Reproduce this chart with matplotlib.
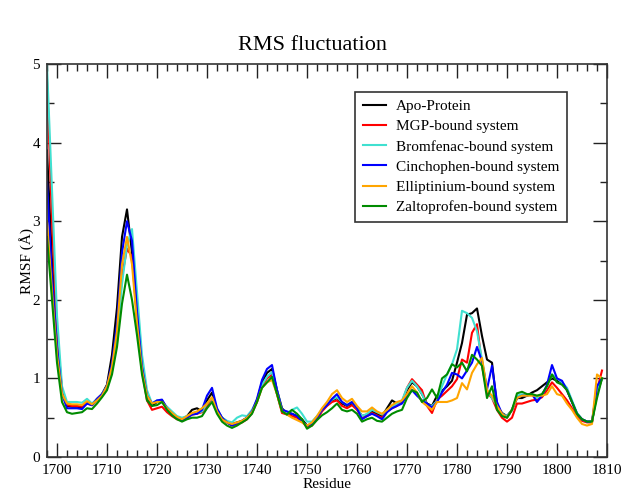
import numpy as np
import matplotlib
matplotlib.use("Agg")
import matplotlib.pyplot as plt
from matplotlib.ticker import MultipleLocator

plt.rcParams['font.family'] = ['Liberation Serif', 'DejaVu Serif']

residues = list(range(1698, 1810))

apo = [3.9, 2.5, 1.5, 0.85, 0.65, 0.64, 0.64, 0.63, 0.70, 0.66, 0.72, 0.80,
       0.92, 1.3, 1.9, 2.8, 3.15, 2.6, 1.8, 1.15, 0.78, 0.65,
       0.70, 0.72, 0.62, 0.56, 0.51, 0.48, 0.52, 0.60, 0.62, 0.58,
       0.72, 0.82, 0.60, 0.50, 0.45, 0.42, 0.44, 0.46, 0.50, 0.58,
       0.72, 0.95, 1.07, 1.12, 0.85, 0.62, 0.55, 0.55, 0.52, 0.48,
       0.40, 0.42, 0.50, 0.60, 0.66, 0.72, 0.75, 0.68, 0.65, 0.68,
       0.62, 0.52, 0.54, 0.58, 0.55, 0.52, 0.62, 0.72, 0.68, 0.70,
       0.85, 0.95, 0.90, 0.80, 0.68, 0.65, 0.78, 0.84, 0.90, 0.97,
       1.20, 1.45, 1.81, 1.83, 1.89, 1.54, 1.24, 1.20, 0.65, 0.56,
       0.52, 0.60, 0.75, 0.75, 0.78, 0.82, 0.85, 0.90, 0.95, 1.00,
       0.97, 0.95, 0.85, 0.70, 0.55, 0.48, 0.45, 0.45, 0.80, 1.00]
mgp = [4.8, 3.0, 1.6, 0.85, 0.66, 0.65, 0.65, 0.64, 0.68, 0.66, 0.74, 0.80,
       0.88, 1.1, 1.5, 2.3, 2.65, 2.55, 1.75, 1.1, 0.72, 0.60,
       0.62, 0.64, 0.57, 0.52, 0.48, 0.47, 0.50, 0.54, 0.55, 0.57,
       0.65, 0.75, 0.58, 0.48, 0.44, 0.40, 0.42, 0.44, 0.48, 0.56,
       0.70, 0.90, 1.00, 1.05, 0.80, 0.56, 0.54, 0.52, 0.50, 0.45,
       0.38, 0.40, 0.48, 0.58, 0.65, 0.70, 0.72, 0.65, 0.62, 0.66,
       0.60, 0.50, 0.52, 0.56, 0.53, 0.50, 0.58, 0.62, 0.65, 0.70,
       0.88, 0.99, 0.92, 0.85, 0.65, 0.56, 0.73, 0.78, 0.84, 0.90,
       0.99, 1.24, 1.20, 1.58, 1.69, 1.16, 0.82, 0.75, 0.60, 0.50,
       0.45, 0.50, 0.68, 0.68, 0.70, 0.72, 0.73, 0.76, 0.85, 0.95,
       0.88, 0.80, 0.72, 0.62, 0.52, 0.46, 0.44, 0.44, 0.85, 1.10]
bromfenac = [4.98, 3.4, 1.8, 0.9, 0.70, 0.70, 0.70, 0.69, 0.74, 0.68, 0.74, 0.80,
             0.90, 1.1, 1.45, 2.2, 2.7, 2.9, 2.1, 1.3, 0.85, 0.68,
             0.72, 0.70, 0.64, 0.58, 0.52, 0.50, 0.52, 0.55, 0.56, 0.58,
             0.68, 0.75, 0.60, 0.50, 0.46, 0.44, 0.50, 0.53, 0.52, 0.60,
             0.72, 0.92, 1.02, 1.08, 0.85, 0.60, 0.56, 0.60, 0.63, 0.55,
             0.45, 0.45, 0.52, 0.60, 0.67, 0.73, 0.76, 0.70, 0.66, 0.70,
             0.62, 0.52, 0.55, 0.60, 0.57, 0.54, 0.60, 0.64, 0.68, 0.72,
             0.88, 0.97, 0.90, 0.80, 0.66, 0.65, 0.71, 0.90, 1.05, 1.18,
             1.37, 1.86, 1.83, 1.77, 1.60, 1.24, 0.86, 0.75, 0.65, 0.55,
             0.52, 0.60, 0.78, 0.80, 0.78, 0.80, 0.75, 0.80, 0.90, 1.05,
             1.00, 0.95, 0.88, 0.72, 0.56, 0.48, 0.45, 0.45, 0.85, 1.00]
cinchophen = [3.5, 2.3, 1.4, 0.8, 0.62, 0.62, 0.62, 0.61, 0.68, 0.66, 0.74, 0.80,
              0.90, 1.2, 1.7, 2.6, 3.0, 2.75, 1.85, 1.15, 0.78, 0.68,
              0.72, 0.73, 0.62, 0.55, 0.50, 0.47, 0.50, 0.54, 0.55, 0.60,
              0.78, 0.88, 0.62, 0.50, 0.44, 0.40, 0.43, 0.46, 0.50, 0.58,
              0.74, 0.98, 1.12, 1.17, 0.85, 0.60, 0.58, 0.55, 0.52, 0.45,
              0.40, 0.42, 0.50, 0.60, 0.66, 0.74, 0.80, 0.70, 0.66, 0.70,
              0.62, 0.48, 0.52, 0.55, 0.52, 0.48, 0.57, 0.62, 0.65, 0.68,
              0.78, 0.85, 0.78, 0.72, 0.68, 0.63, 0.70, 0.82, 0.92, 1.07,
              1.05, 1.00, 1.10, 1.20, 1.40, 1.22, 0.86, 1.16, 0.70, 0.55,
              0.50, 0.60, 0.75, 0.78, 0.78, 0.80, 0.70, 0.78, 0.92, 1.17,
              1.00, 0.97, 0.85, 0.70, 0.55, 0.48, 0.45, 0.45, 0.90, 1.00]
elliptinium = [3.0, 2.1, 1.3, 0.8, 0.68, 0.67, 0.67, 0.66, 0.71, 0.67, 0.72, 0.78,
               0.90, 1.15, 1.6, 2.45, 2.8, 2.45, 1.7, 1.1, 0.78, 0.68,
               0.70, 0.70, 0.62, 0.56, 0.51, 0.48, 0.52, 0.56, 0.58, 0.62,
               0.68, 0.76, 0.58, 0.48, 0.44, 0.42, 0.44, 0.46, 0.50, 0.57,
               0.70, 0.88, 0.95, 0.98, 0.80, 0.58, 0.54, 0.50, 0.47, 0.44,
               0.40, 0.44, 0.52, 0.62, 0.70, 0.80, 0.85, 0.75, 0.70, 0.74,
               0.65, 0.58, 0.58, 0.63, 0.58, 0.55, 0.60, 0.66, 0.70, 0.72,
               0.80, 0.90, 0.82, 0.70, 0.65, 0.60, 0.70, 0.70, 0.70, 0.72,
               0.75, 0.94, 0.86, 1.07, 1.18, 1.26, 0.85, 0.78, 0.65, 0.55,
               0.50, 0.60, 0.75, 0.78, 0.78, 0.78, 0.78, 0.78, 0.80, 0.90,
               0.80, 0.78, 0.68, 0.60, 0.50, 0.42, 0.40, 0.42, 1.05, 1.00]
zaltoprofen = [2.8, 2.0, 1.2, 0.7, 0.57, 0.55, 0.56, 0.57, 0.62, 0.61, 0.68, 0.76,
               0.85, 1.05, 1.4, 1.95, 2.32, 2.0, 1.55, 1.05, 0.72, 0.65,
               0.66, 0.70, 0.60, 0.53, 0.48, 0.45, 0.48, 0.50, 0.50, 0.52,
               0.62, 0.70, 0.55, 0.45, 0.40, 0.37, 0.40, 0.44, 0.48, 0.55,
               0.70, 0.88, 0.95, 1.02, 0.80, 0.58, 0.54, 0.60, 0.55, 0.48,
               0.36, 0.40, 0.47, 0.53, 0.57, 0.62, 0.68, 0.60, 0.58, 0.60,
               0.55, 0.45, 0.48, 0.50, 0.46, 0.45, 0.50, 0.55, 0.58, 0.60,
               0.75, 0.85, 0.82, 0.70, 0.75, 0.86, 0.75, 1.00, 1.05, 1.18,
               1.14, 1.20, 1.09, 1.30, 1.24, 1.16, 0.75, 0.90, 0.60, 0.52,
               0.50, 0.60, 0.81, 0.83, 0.80, 0.80, 0.78, 0.80, 0.90, 1.05,
               0.95, 0.92, 0.85, 0.70, 0.55, 0.48, 0.45, 0.45, 0.75, 1.00]

labels = ["Apo-Protein", "MGP-bound system", "Bromfenac-bound system",
          "Cinchophen-bound system", "Elliptinium-bound system",
          "Zaltoprofen-bound system"]
colors = ["#000000", "#ff0000", "#40e0d0", "#0000ff", "#ffa500", "#008b00"]
series = [apo, mgp, bromfenac, cinchophen, elliptinium, zaltoprofen]

fig = plt.figure(figsize=(6.24, 4.91), dpi=100)
ax = fig.add_axes([47/624, 1-457/491, 560/624, 393/491])

for vals, lab, col in zip(series, labels, colors):
    ax.plot(residues, vals, color=col, lw=1.5, label=lab)

ax.set_xlim(1698, 1810)
ax.set_ylim(0, 5)
ax.xaxis.set_major_locator(MultipleLocator(10))
ax.xaxis.set_minor_locator(MultipleLocator(2))
ax.yaxis.set_major_locator(MultipleLocator(1))
ax.yaxis.set_minor_locator(MultipleLocator(0.5))
ax.tick_params(which='both', direction='in', top=True, right=True,
               labelsize=11, width=1, colors='#222222')
ax.tick_params(which='major', length=10, pad=5)
ax.tick_params(which='minor', length=5)
for t in ax.get_xticklabels() + ax.get_yticklabels():
    t.set_color('black')
for s in ax.spines.values():
    s.set_linewidth(1.2)
    s.set_color('#333333')

ax.set_xlabel("Residue", fontsize=11, labelpad=1)
ax.set_ylabel("RMSF (Å)", fontsize=11, labelpad=-1)
fig.text(0.5, 1-45/491, "RMS fluctuation", ha='center', va='center', fontsize=16)

leg = ax.legend(loc='upper left', bbox_to_anchor=(355/624, 1-92/491),
                bbox_transform=fig.transFigure, fontsize=11, frameon=True,
                fancybox=False, edgecolor='#333333', framealpha=1,
                handlelength=1.5, handletextpad=0.7, labelspacing=0.42,
                borderpad=0.5, borderaxespad=0)
leg.get_frame().set_linewidth(1.2)

fig.savefig("out.png", dpi=100)
